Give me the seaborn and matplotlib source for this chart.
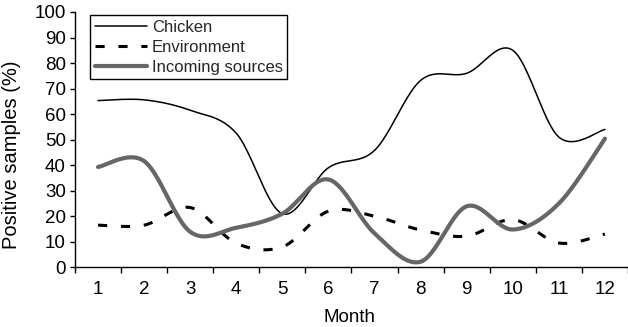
import numpy as np
import pandas as pd
import matplotlib
matplotlib.use("Agg")
import matplotlib.pyplot as plt
import seaborn as sns

months = list(range(1, 13))
chicken = [65.3, 65.6, 61.5, 52.5, 21.0, 39.0, 45.8, 73.2, 76.0, 85.0, 51.0, 54.0]
environment = [16.5, 16.5, 23.4, 9.4, 8.0, 22.0, 20.0, 14.6, 12.2, 18.7, 9.5, 13.0]
incoming = [39.3, 41.6, 13.9, 15.5, 21.0, 34.4, 13.3, 2.2, 23.9, 14.8, 25.0, 50.4]
series_names = ["Chicken", "Environment", "Incoming sources"]
yticks = list(range(0, 101, 10))


def smooth(xs, ys, n=24):
    """Excel-like smoothed line (Catmull-Rom / cubic Bezier) through the points."""
    xs = np.asarray(xs, float)
    ys = np.asarray(ys, float)
    px = np.concatenate([[xs[0]], xs, [xs[-1]]])
    py = np.concatenate([[ys[0]], ys, [ys[-1]]])
    ox, oy = [], []
    t = np.linspace(0, 1, n, endpoint=False)
    for i in range(1, len(px) - 2):
        p0 = np.array([px[i], py[i]])
        p3 = np.array([px[i + 1], py[i + 1]])
        c1 = p0 + (np.array([px[i + 1], py[i + 1]]) - np.array([px[i - 1], py[i - 1]])) / 6
        c2 = p3 - (np.array([px[i + 2], py[i + 2]]) - np.array([px[i], py[i]])) / 6
        b = ((1 - t) ** 3)[:, None] * p0 + (3 * (1 - t) ** 2 * t)[:, None] * c1 \
            + (3 * (1 - t) * t ** 2)[:, None] * c2 + (t ** 3)[:, None] * p3
        ox.extend(b[:, 0]); oy.extend(b[:, 1])
    ox.append(xs[-1]); oy.append(ys[-1])
    return np.array(ox), np.array(oy)


sns.set_theme(style="white")
plt.rcParams["font.family"] = ["Liberation Sans", "DejaVu Sans"]

fig = plt.figure(figsize=(6.28, 3.27), dpi=100)
ax = fig.add_axes([75 / 628, 1 - 267.3 / 327, 553 / 628, 255.3 / 327])

styles = {
    "Chicken": dict(color="black", linewidth=1.1),
    "Environment": dict(color="black", linewidth=2.2, dashes=[3, 4.5], dash_capstyle="butt"),
    "Incoming sources": dict(color="#666666", linewidth=3.0),
}
for name, vals in zip(series_names, [chicken, environment, incoming]):
    sx, sy = smooth(months, vals)
    df = pd.DataFrame({"Month": sx, "Value": sy})
    st = dict(styles[name])
    dashes = st.pop("dashes", None)
    capst = st.pop("dash_capstyle", None)
    sns.lineplot(data=df, x="Month", y="Value", ax=ax, label=name, sort=False, **st)
    l = ax.get_lines()[-1]
    if dashes is not None:
        l.set_dashes(dashes)
        l.set_dash_capstyle(capst)

ax.set_xlim(0.5, 12.5)
ax.set_ylim(0, 100)
ax.set_yticks(yticks)
ax.set_xticks(months)
ax.set_xticks(np.arange(0.5, 13, 1), minor=True)
ax.tick_params(axis="x", which="major", length=0, pad=10, labelsize=13.5, colors="black")
ax.tick_params(axis="x", which="minor", length=4.5, width=1, direction="out", bottom=True, colors="black")
ax.tick_params(axis="y", which="major", length=3.5, width=1, direction="out", left=True, pad=3,
               labelsize=13.5, colors="black")
for s in ["top", "right"]:
    ax.spines[s].set_visible(False)
for s in ["left", "bottom"]:
    ax.spines[s].set_color("black")
    ax.spines[s].set_linewidth(1)

ax.set_xlabel("Month", fontsize=13.5, color="black")
ax.xaxis.set_label_coords(0.497, -0.165)
ax.set_ylabel("Positive samples (%)", fontsize=14.5, color="black", va="center")
ax.yaxis.set_label_coords(-0.1157, 0.44)

leg = ax.legend(loc="upper left", bbox_to_anchor=(0.028, 0.988), borderaxespad=0,
                fontsize=12, frameon=True, fancybox=False, handlelength=3.1,
                handletextpad=0.3, labelspacing=0.3, borderpad=0.28)
leg.get_frame().set_edgecolor("black")
leg.get_frame().set_linewidth(1)
leg.get_frame().set_alpha(1)

fig.savefig("out.png", dpi=100)
